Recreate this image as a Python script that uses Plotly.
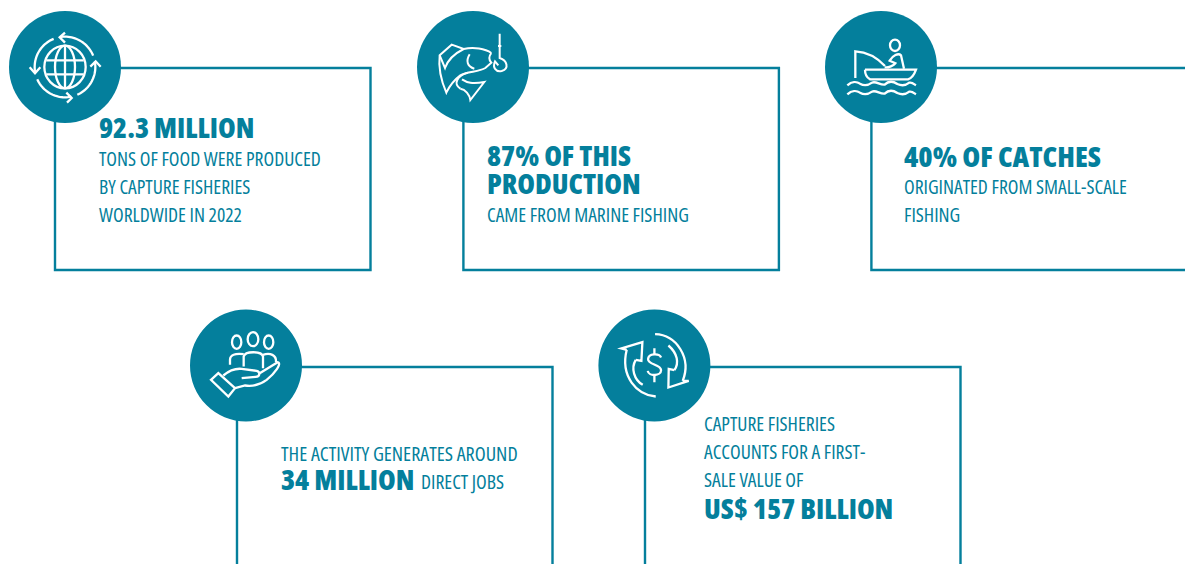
import math
import re
import plotly.graph_objects as go

WIDTH, HEIGHT = 1185, 564
TEAL = "#047f9c"
FONT = "Open Sans"

# Text content of each panel
panel_1_title = "92.3 MILLION"
panel_1_lines = ["TONS OF FOOD WERE PRODUCED", "BY CAPTURE FISHERIES", "WORLDWIDE IN 2022"]
panel_2_title = ["87% OF THIS", "PRODUCTION"]
panel_2_lines = ["CAME FROM MARINE FISHING"]
panel_3_title = "40% OF CATCHES"
panel_3_lines = ["ORIGINATED FROM SMALL-SCALE", "FISHING"]
panel_4_line = "THE ACTIVITY GENERATES AROUND"
panel_4_title = "34 MILLION"
panel_4_tail = "DIRECT JOBS"
panel_5_lines = ["CAPTURE FISHERIES", "ACCOUNTS FOR A FIRST-", "SALE VALUE OF"]
panel_5_title = "US$ 157 BILLION"

BOX_W, BOX_H, RADIUS = 315.5, 202, 56
# (box left, box top, badge centre x, badge centre y)
PANELS = [
    (55, 68, 65, 67),
    (463.4, 68, 473, 67),
    (871.4, 68, 881, 67),
    (237, 367, 246, 365.5),
    (645, 367, 654.4, 365.5),
]


def place(path, cx, cy, ox, oy):
    """Turn an icon path in 3x units around (ox, oy) into plot coordinates."""
    out, is_x = [], True
    for tok in re.findall(r"-?\d+\.?\d*|[A-Za-z]", path):
        if tok.isalpha():
            out.append(tok)
            is_x = True
        else:
            v = float(tok)
            out.append(f"{cx + (v - ox) / 3:.2f}" if is_x else f"{cy + (v - oy) / 3:.2f}")
            is_x = not is_x
    return " ".join(out)


def ellipse(x, y, rx, ry):
    k = 0.5523
    return (f"M {x - rx} {y} C {x - rx} {y - k * ry} {x - k * rx} {y - ry} {x} {y - ry} "
            f"C {x + k * rx} {y - ry} {x + rx} {y - k * ry} {x + rx} {y} "
            f"C {x + rx} {y + k * ry} {x + k * rx} {y + ry} {x} {y + ry} "
            f"C {x - k * rx} {y + ry} {x - rx} {y + k * ry} {x - rx} {y} Z")


def arc(x, y, r, a0, a1):
    steps = 24
    pts = []
    for i in range(steps + 1):
        a = math.radians(a0 + (a1 - a0) * i / steps)
        pts.append(("M" if i == 0 else "L") + f" {x + r * math.cos(a):.2f} {y + r * math.sin(a):.2f}")
    return " ".join(pts)


# Globe surrounded by four circling arrows
globe = [
    ellipse(178, 185, 62, 64),
    ellipse(178, 185, 30, 64),
    "M 178 121 L 178 249",
    "M 122 165 L 234 165",
    "M 122 207 L 234 207",
    arc(178, 185, 91, 260, 338),
    arc(178, 185, 91, 349.5, 426),
    arc(178, 185, 91, 78, 156),
    arc(178, 185, 91, 168, 248),
    "M 178 82 L 162 96 L 178 112",
    "M 72 186 L 88 204 L 104 186",
    "M 182 262 L 198 278 L 184 292",
    "M 254 184 L 270 168 L 285 184",
]
# Fish leaping at a hook
fish = [
    "M 243 143 C 225 130 190 124 160 131 L 124 118 L 88 150 C 84 185 92 225 108 262 "
    "C 118 240 130 225 150 210 C 170 198 205 200 225 188 L 243 172 C 234 162 236 152 243 143",
    "M 178 147 C 165 168 172 184 192 190",
    "M 88 150 L 104 188 C 112 165 132 145 160 131",
    "M 150 250 C 128 235 140 212 172 202",
    "M 155 222 C 170 232 185 236 222 230 L 180 284 C 178 268 165 252 150 250",
    "M 268 85 L 268 158 C 290 165 298 190 274 197 C 256 201 246 186 254 168 L 264 180",
    "M 263 122 L 273 122",
]
# Angler in a small boat above two waves
angler = [
    ellipse(225, 120, 15, 17),
    "M 106 218 L 106 138 C 140 140 170 155 195 182",
    "M 194 186 C 205 188 222 180 226 174 L 209 166 C 218 150 235 142 243 150 L 252 190",
    "M 135 193 L 288 193 C 282 210 272 220 264 222 L 150 222 C 140 216 135 205 135 193",
    "M 82 240 C 95 228 110 228 120 235 C 132 242 145 240 156 232 C 168 226 180 240 194 238 "
    "C 206 226 220 228 232 236 C 245 242 258 240 268 232 C 276 230 282 236 288 240",
    "M 82 267 C 95 255 110 255 120 262 C 132 269 145 267 156 259 C 168 253 180 267 194 265 "
    "C 206 253 220 255 232 263 C 245 269 258 267 268 259 C 276 257 282 263 288 267",
]
# Open hand holding three people
hand = [
    ellipse(155, 112, 14, 20),
    ellipse(204, 103, 16, 21),
    ellipse(251, 112, 14, 20),
    "M 135 180 L 135 165 C 135 150 150 145 176 148",
    "M 176 185 L 176 155 C 180 138 230 138 234 155 L 234 190",
    "M 234 150 C 255 143 275 150 273 172",
    "M 115 212 C 135 195 150 190 170 192 L 215 198 C 226 201 226 215 212 216 L 170 220",
    "M 224 205 L 278 172 C 292 175 270 205 245 225 C 225 240 200 245 180 242 L 150 250",
    "M 78 225 L 100 205 L 150 250 L 130 275 Z",
]
# Dollar sign inside two circular arrows
dollar = [
    "M 183 130 L 183 148 M 183 210 L 183 232",
    "M 203 158 C 198 145 165 145 164 163 C 163 180 202 178 203 196 C 203 214 166 216 163 198",
    "M 187 275 C 130 270 80 215 100 135",
    "M 100 135 L 84 131 L 147 112 L 144 168 L 127 165",
    "M 127 165 C 112 190 122 225 148 240",
    "M 185 88 C 250 90 295 160 268 228",
    "M 268 228 L 286 228 L 225 248 L 226 192 L 243 196",
    "M 225 122 C 252 145 258 175 243 196",
]

# (outline parts, icon origin x, icon origin y, stroke width)
ICONS = [
    (globe, 178, 185, 2.3),
    (fish, 188, 185, 2.0),
    (angler, 183, 185, 2.3),
    (hand, 183, 182, 2.3),
    (dollar, 183, 182, 2.3),
]

shapes = []
for (left, top, cx, cy), (icon, ox, oy, stroke) in zip(PANELS, ICONS):
    shapes.append(dict(type="rect", x0=left, x1=left + BOX_W, y0=top, y1=top + BOX_H,
                       line=dict(color=TEAL, width=2.4), fillcolor="rgba(0,0,0,0)"))
    shapes.append(dict(type="circle", x0=cx - RADIUS, x1=cx + RADIUS, y0=cy - RADIUS, y1=cy + RADIUS,
                       line=dict(width=0), fillcolor=TEAL))
    for part in icon:
        shapes.append(dict(type="path", path=place(part, cx, cy, ox, oy),
                           line=dict(color="white", width=stroke), fillcolor="rgba(0,0,0,0)"))

annotations = []


def label(x, y, text, size=19.6, bold=False):
    annotations.append(dict(
        x=x, y=y, text=f"<span style='font-stretch:condensed'>{text}</span>",
        showarrow=False, xanchor="left", yanchor="middle", align="left", xshift=-2,
        font=dict(family=FONT, size=size, color=TEAL, weight=800 if bold else 400),
    ))


TITLE_SIZE = 28.5
label(99, 127, panel_1_title, TITLE_SIZE, True)
for y, line in zip((158, 186, 214), panel_1_lines):
    label(99, y, line)
for y, line in zip((155, 183), panel_2_title):
    label(487, y, line, TITLE_SIZE, True)
for y, line in zip((214,), panel_2_lines):
    label(487, y, line)
label(904, 155, panel_3_title, 29, True)
for y, line in zip((186, 214), panel_3_lines):
    label(904, y, line)
label(281, 453, panel_4_line, 20.1)
label(281, 479, panel_4_title, TITLE_SIZE, True)
label(421, 481, panel_4_tail)
for y, line in zip((423, 451, 479), panel_5_lines):
    label(704, y, line)
label(704, 508, panel_5_title, TITLE_SIZE, True)

fig = go.Figure()
fig.update_layout(
    width=WIDTH, height=HEIGHT, margin=dict(l=0, r=0, t=0, b=0),
    paper_bgcolor="white", plot_bgcolor="white", showlegend=False,
    xaxis=dict(range=[0, WIDTH], visible=False, fixedrange=True),
    yaxis=dict(range=[HEIGHT, 0], visible=False, fixedrange=True),
    shapes=shapes, annotations=annotations,
)
fig.write_html("out.html", config=dict(displayModeBar=False))
